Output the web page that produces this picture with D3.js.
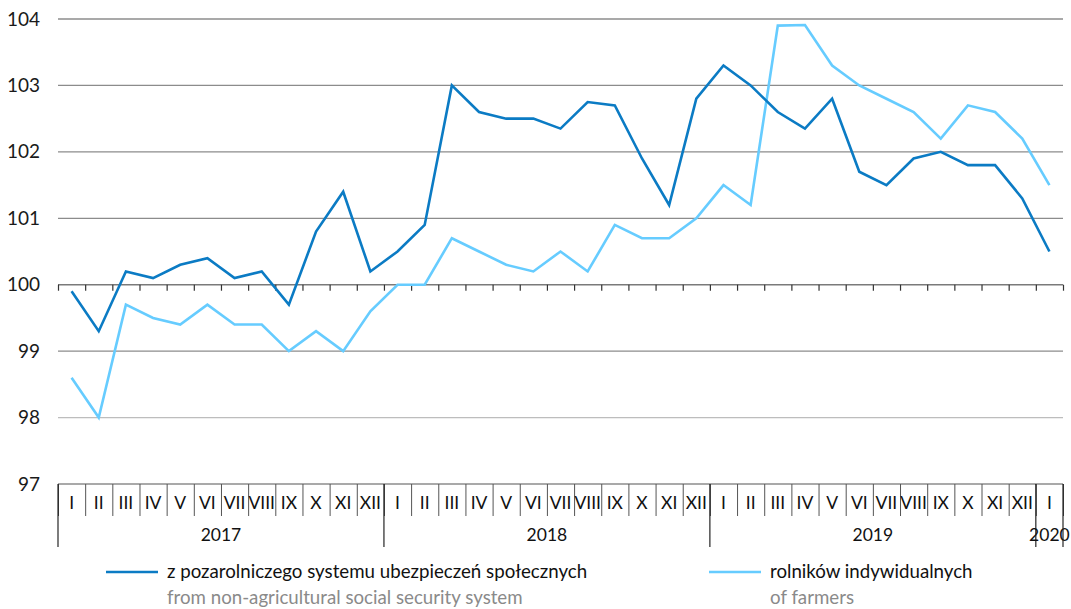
<!DOCTYPE html>
<html><head><meta charset="utf-8">
<script src="https://cdn.jsdelivr.net/npm/d3@7"></script>
<style>
body{margin:0;background:#fff;}
svg text{font-family:Lato,"Open Sans",sans-serif;}
</style></head>
<body><svg id="c" width="1071" height="609"></svg>
<script>
const months = ["I","II","III","IV","V","VI","VII","VIII","IX","X","XI","XII",
"I","II","III","IV","V","VI","VII","VIII","IX","X","XI","XII",
"I","II","III","IV","V","VI","VII","VIII","IX","X","XI","XII","I"];
const years = ["2017","2018","2019","2020"];
const yearStart = [0,12,24,36];
const yearEnd = [12,24,36,37];
const yTicks = [97,98,99,100,101,102,103,104];
const nonAgri = [99.9,99.3,100.2,100.1,100.3,100.4,100.1,100.2,99.7,100.8,101.4,100.2,
100.5,100.9,103.0,102.6,102.5,102.5,102.35,102.75,102.7,101.9,101.2,102.8,
103.3,103.0,102.6,102.35,102.8,101.7,101.5,101.9,102.0,101.8,101.8,101.3,100.5];
const farmers = [98.6,98.0,99.7,99.5,99.4,99.7,99.4,99.4,99.0,99.3,99.0,99.6,
100.0,100.0,100.7,100.5,100.3,100.2,100.5,100.2,100.9,100.7,100.7,101.0,
101.5,101.2,103.9,103.91,103.3,103.0,102.8,102.6,102.2,102.7,102.6,102.2,101.5];
const legendPl = ["z pozarolniczego systemu ubezpieczeń społecznych","rolników indywidualnych"];
const legendEn = ["from non-agricultural social security system","of farmers"];
const colors = ["#0b7bc4","#66ccff"];

const svg = d3.select("#c");
const L=58, R=1063, T=19, B=484;
const idx = d3.range(months.length);
const x = d3.scaleBand().domain(idx).range([L,R]).padding(0);
const xb = d3.scaleLinear().domain([0,months.length]).range([L,R]);
const y = d3.scaleLinear().domain([97,104]).range([B,T]);

// gridlines
svg.append("g").selectAll("line").data(yTicks.filter(v=>v!==97 && v!==100)).join("line")
  .attr("x1",L).attr("x2",R).attr("y1",d=>y(d)).attr("y2",d=>y(d))
  .attr("stroke",d=>d===98?"#bdbdbd":"#8c8c8c").attr("stroke-width",1.3);

// y axis labels
const ya = svg.append("g").attr("transform",`translate(${L-18},0)`)
  .call(d3.axisLeft(y).tickValues(yTicks).tickSize(0).tickPadding(0).tickFormat(d3.format("d")));
ya.select(".domain").remove();
ya.selectAll("text").attr("font-size",19).attr("fill","#1a1a1a").attr("dy","0.32em")
  .attr("font-family","Lato,'Open Sans',sans-serif");

// 100 axis with ticks
const a100 = svg.append("g").attr("transform",`translate(0,${y(100)})`)
  .call(d3.axisBottom(xb).tickValues(d3.range(0,months.length+1)).tickSize(6).tickFormat(""));
a100.select(".domain").attr("stroke","#7a7a7a").attr("stroke-width",1.6).attr("d",`M${L},0H${R}`);
a100.selectAll(".tick line").attr("stroke","#333").attr("stroke-width",1.2);

// bottom axis
const a97 = svg.append("g").attr("transform",`translate(0,${B})`)
  .call(d3.axisBottom(xb).tickValues(d3.range(0,months.length+1)).tickSize(32).tickFormat(""));
a97.select(".domain").attr("stroke","#8c8c8c").attr("stroke-width",1.4).attr("d",`M${L},0H${R}`);
a97.selectAll(".tick line").attr("stroke","#555").attr("stroke-width",1);

const ml = svg.append("g").attr("transform",`translate(0,${B})`)
  .call(d3.axisBottom(x).tickSize(0).tickPadding(0).tickFormat(i=>months[i]));
ml.select(".domain").remove();
ml.selectAll("text").attr("y",25).attr("dy",0).attr("font-size",17.5).attr("fill","#111")
  .attr("font-family","Lato,'Open Sans',sans-serif");

// year separators
const ySep = Array.from(new Set(yearStart.concat(yearEnd)));
svg.append("g").selectAll("line").data(ySep).join("line")
  .attr("x1",d=>xb(d)).attr("x2",d=>xb(d)).attr("y1",B).attr("y2",547)
  .attr("stroke","#111").attr("stroke-width",1.1);
svg.append("g").selectAll("text").data(years).join("text")
  .attr("x",(d,i)=>(xb(yearStart[i])+xb(yearEnd[i]))/2).attr("y",541)
  .attr("text-anchor","middle").attr("font-size",17.5).attr("fill","#111").text(d=>d);

// lines
const line = d3.line().x((d,i)=>x(i)+x.bandwidth()/2).y(d=>y(d));
[farmers, nonAgri].forEach((s,k)=>{
  svg.append("path").datum(s).attr("d",line).attr("fill","none")
    .attr("stroke",k===0?colors[1]:colors[0]).attr("stroke-width",2.6).attr("stroke-linejoin","miter");
});

// legend
const lx = [106,709];
lx.forEach((x0,i)=>{
  const g = svg.append("g");
  g.append("line").attr("x1",x0).attr("x2",x0+52).attr("y1",572).attr("y2",572)
    .attr("stroke",colors[i]).attr("stroke-width",2.6);
  g.append("text").attr("x",x0+61).attr("y",578).attr("font-size",18.7).attr("fill","#111").text(legendPl[i]);
  g.append("text").attr("x",x0+61).attr("y",604).attr("font-size",18.7).attr("fill","#8a8a8a").text(legendEn[i]);
});
</script></body></html>
